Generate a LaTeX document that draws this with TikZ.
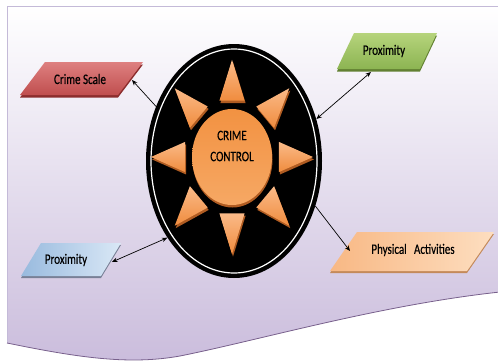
\documentclass[tikz,border=0pt]{standalone}
\usepackage{xcolor}
\usepackage{tikz}
\usepackage{fontspec}
\setmainfont{Carlito}[FakeStretch=0.76, FakeBold=0.4]
\usetikzlibrary{shapes.geometric,shadows,arrows.meta}

\definecolor{lav}{RGB}{202,188,220}
\definecolor{frameline}{RGB}{196,186,216}
\definecolor{waveline}{RGB}{120,96,140}
\definecolor{redA}{RGB}{222,128,128}
\definecolor{redB}{RGB}{192,78,78}
\definecolor{redS}{RGB}{140,45,45}
\definecolor{greenA}{RGB}{182,212,124}
\definecolor{greenB}{RGB}{140,180,82}
\definecolor{greenS}{RGB}{98,128,50}
\definecolor{blueA}{RGB}{152,186,222}
\definecolor{blueB}{RGB}{218,232,246}
\definecolor{blueS}{RGB}{120,128,150}
\definecolor{peachA}{RGB}{248,184,132}
\definecolor{peachB}{RGB}{253,222,192}
\definecolor{peachS}{RGB}{196,138,90}
\definecolor{petalA}{RGB}{250,186,136}
\definecolor{petalB}{RGB}{240,140,62}
\definecolor{petalS}{RGB}{176,92,34}
\definecolor{coreA}{RGB}{242,146,66}
\definecolor{coreB}{RGB}{246,168,100}

\tikzset{
  label text/.style={font=\fontsize{14.5}{17}\selectfont, text=black},
  pshadow/.style={drop shadow={shadow xshift=0.5pt, shadow yshift=-2.5pt, fill=#1, opacity=1}},
  link/.style={{Stealth[length=5.5pt,width=4.5pt]}-{Stealth[length=5.5pt,width=4.5pt]}, line width=0.7pt},
  onelink/.style={-{Stealth[length=5.5pt,width=4.5pt]}, line width=0.7pt}
}

\begin{document}
\begin{tikzpicture}[x=1pt,y=-1pt]
\useasboundingbox (0,0) rectangle (498,364);
\shade[top color=white, bottom color=lav] (7,6) -- (500,6) -- (500,292)
  .. controls (380,305) and (260,340) .. (180,356)
  .. controls (130,365) and (80,358) .. (7,343) -- cycle;
\draw[frameline, line width=0.8pt] (7,343) -- (7,6) -- (500,6);
\draw[waveline, line width=0.8pt] (7,343) .. controls (80,358) and (130,365) .. (180,356)
  .. controls (260,340) and (380,305) .. (500,292);

\node[ellipse, fill=black, minimum width=176pt, minimum height=234pt, inner sep=0pt] (ring) at (234,161) {};
\draw[white, line width=1.2pt] (ring.center) ellipse (83 and 112);

\begin{scope}[shift={(232,157)}, yscale=1.2]
  \foreach \a in {0,45,...,315}{
    \fill[petalS, xshift=1pt, yshift=-2pt] (\a:81) -- (\a+15:48.6) -- (\a-15:48.6) -- cycle;
    \shade[top color=petalA, bottom color=petalB] (\a:81) -- (\a+15:48.6) -- (\a-15:48.6) -- cycle;
  }
\end{scope}

\node[ellipse, minimum width=80pt, minimum height=96pt, inner sep=0pt,
  top color=coreA, bottom color=coreB, pshadow=petalS] (core) at (232,157) {};
\node[align=center, label text, font=\fontsize{14.5}{21}\selectfont] (title) at (232,146) {CRIME\\CONTROL};

\foreach \bl/\br/\tr/\tl/\c in {
    {(20,95)}/{(118,95)}/{(143,62)}/{(45,62)}/red,
    {(337,69)}/{(420,69)}/{(437,33)}/{(354,33)}/green}{
  \fill[\c S, yshift=-2.5pt] \bl -- \br -- \tr -- \tl -- cycle;
  \shade[top color=\c A, bottom color=\c B] \bl -- \br -- \tr -- \tl -- cycle;
}
\foreach \bl/\br/\tr/\tl/\c in {
    {(21,276)}/{(101,276)}/{(121,243)}/{(41,243)}/blue,
    {(330,271)}/{(467,271)}/{(494,232)}/{(357,232)}/peach}{
  \fill[\c S, yshift=-2pt] \bl -- \br -- \tr -- \tl -- cycle;
  \shade[left color=\c A, right color=\c B] \bl -- \br -- \tr -- \tl -- cycle;
}

\node[label text] (scale) at (80,79) {Crime Scale};
\node[label text] (near1) at (384,51) {Proximity};
\node[label text] (near2) at (66,260) {Proximity};
\node[label text] (activity) at (413,250) {Physical\enspace Activities};

\coordinate (scale-end) at (132,80);
\coordinate (near1-end) at (371,72);
\coordinate (near2-end) at (112,262);
\coordinate (activity-end) at (350,251);

\draw[onelink] (ring.145) -- (scale-end);
\draw[link] (ring.27) -- (near1-end);
\draw[link] (ring.229) -- (near2-end);
\draw[onelink] (ring.331) -- (activity-end);
\end{tikzpicture}
\end{document}
